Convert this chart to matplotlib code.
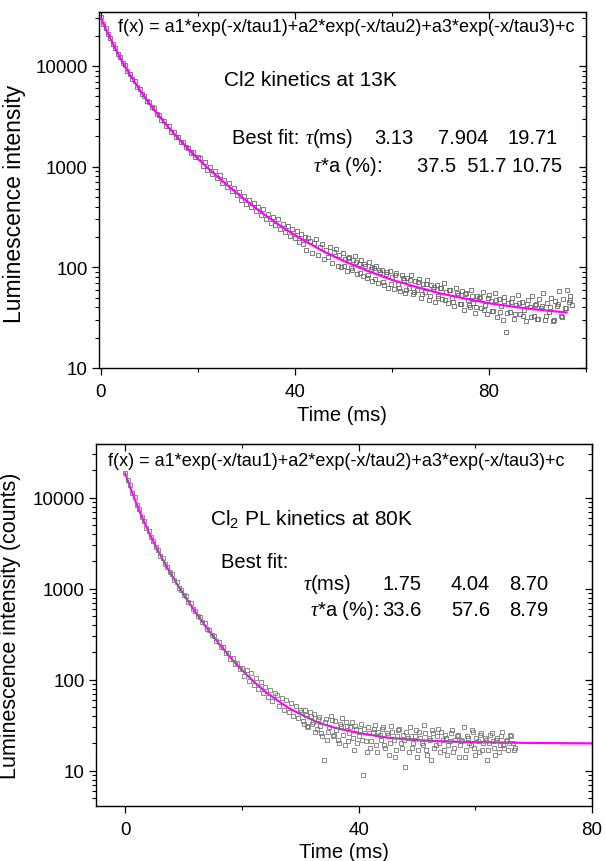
import matplotlib
matplotlib.use("Agg")
import matplotlib.pyplot as plt
from matplotlib.ticker import FixedLocator, LogLocator, NullFormatter, FixedFormatter

plt.rcParams['font.family'] = ['Liberation Sans', 'DejaVu Sans']
plt.rcParams['mathtext.fontset'] = 'custom'
plt.rcParams['mathtext.rm'] = 'Liberation Sans'
plt.rcParams['mathtext.it'] = 'Liberation Serif:italic'
plt.rcParams['mathtext.bf'] = 'Liberation Sans:bold'

# ---------------- data: 13 K panel ----------------
fit13_t = [0, 1, 2, 3, 4, 5, 6, 8, 10, 12, 14, 16, 18, 20, 22, 24, 26, 28, 30, 34, 38,
           42, 46, 50, 55, 60, 65, 70, 75, 80, 85, 90, 96]
fit13_y = [30000, 23500, 18600, 14900, 12000, 9900, 8200, 5800, 4250, 3180, 2440, 1900,
           1500, 1200, 975, 800, 660, 548, 458, 326, 240, 183, 143, 116, 92, 75, 64, 55,
           49, 44, 40.6, 38, 35.6]

data13_t = [0.0, 0.5, 1.0, 1.5, 2.0, 2.5, 3.0, 3.5, 4.0, 4.5, 5.0, 5.5, 6.0, 6.5, 7.0, 7.5,
            8.0, 8.5, 9.0, 9.5, 10.0, 10.5, 11.0, 11.5, 12.0, 12.5, 13.0, 13.5, 14.0, 14.5,
            15.0, 15.5, 16.0, 16.5, 17.0, 17.5, 18.0, 18.5, 19.0, 19.5, 20.0,
            20.5, 21.0, 21.5, 22.0, 22.5, 23.0, 23.5, 24.0, 24.5, 25.0, 25.5, 26.0, 26.5,
            27.0, 27.5, 28.0, 28.5, 29.0, 29.5, 30.0, 30.5, 31.0, 31.5, 32.0, 32.5, 33.0,
            33.5, 34.0, 34.5, 35.0, 35.5, 36.0, 36.5, 37.0, 37.5, 38.0, 38.5, 39.0, 39.5, 40.0,
            40.4, 40.8, 41.2, 41.6, 42.0, 42.4, 42.8, 43.2, 43.6, 44.0, 44.4, 44.8, 45.2, 45.6,
            46.0, 46.4, 46.8, 47.2, 47.6, 48.0, 48.4, 48.8, 49.2, 49.6, 50.0, 50.4, 50.8, 51.2,
            51.6, 52.0, 52.4, 52.8, 53.2, 53.6, 54.0, 54.4, 54.8, 55.2, 55.6, 56.0, 56.4, 56.8,
            57.2, 57.6, 58.0, 58.4, 58.8, 59.2, 59.6, 60.0, 60.4, 60.8, 61.2, 61.6, 62.0, 62.4,
            62.8, 63.2, 63.6, 64.0, 64.4, 64.8, 65.2, 65.6, 66.0, 66.4, 66.8, 67.2, 67.6, 68.0,
            68.4, 68.8, 69.2, 69.6, 70.0, 70.4, 70.8, 71.2, 71.6, 72.0, 72.4, 72.8, 73.2, 73.6,
            74.0, 74.4, 74.8, 75.2, 75.6, 76.0, 76.4, 76.8, 77.2, 77.6, 78.0, 78.4, 78.8, 79.2,
            79.6, 80.0, 80.4, 80.8, 81.2, 81.6, 82.0, 82.4, 82.8, 83.2, 83.6, 84.0, 84.4, 84.8,
            85.2, 85.6, 86.0, 86.4, 86.8, 87.2, 87.6, 88.0, 88.4, 88.8, 89.2, 89.6, 90.0, 90.4,
            90.8, 91.2, 91.6, 92.0, 92.4, 92.8, 93.2, 93.6, 94.0, 94.4, 94.8, 95.2, 95.6, 96.0,
            96.4, 96.8, 97.2]
data13_y = [30500, 26000, 23900, 20600, 18900, 16400, 15200, 13100, 12300, 10700, 10100, 8850,
            8350, 7380, 7040, 6190, 5930, 5240, 5060, 4490, 4340, 3880, 3780, 3350, 3260, 2910,
            2860, 2550, 2510, 2230, 2210, 1970, 1950, 1740, 1740, 1550, 1540, 1380, 1390, 1235,
            1240,
            1210, 1020, 1100, 930, 990, 850, 895, 770, 820, 690, 740, 625, 680, 570, 610, 520,
            565, 470, 515, 430, 470, 395, 440, 360, 395, 330, 375, 305, 340, 278, 318, 262, 300,
            240, 272, 222, 256, 205, 238, 196,
            230, 178, 215, 170, 201, 150, 195, 182, 140, 176, 190, 133, 160, 172, 121, 150, 128,
            158, 110, 141, 152, 104, 131, 100, 139, 122, 92, 127, 98, 118, 130, 86, 108, 117, 82,
            104, 79, 112, 96, 73, 99, 104, 70, 90, 95, 66, 86, 63, 91, 80, 61, 88, 69, 58, 83,
            75, 56, 79, 62, 84, 54, 73, 60, 76, 49, 69, 57, 74, 47, 66, 61, 45, 67, 52, 63, 48,
            70, 57, 44, 60, 50, 41, 62, 53, 43, 58, 38, 55, 47, 40, 59, 44, 35, 52, 49, 39, 57,
            42, 34, 53, 46, 37, 55, 32, 48, 41, 30, 51, 23, 44, 36, 49, 31, 42, 53, 34, 45, 38,
            29, 47, 40, 52, 33, 43, 31, 48, 39, 56, 30, 44, 36, 50, 29, 46, 41, 58, 33, 48, 39,
            60, 45, 52, 42]
data13b_t = [50.2, 51.0, 51.8, 52.6, 53.4, 54.2, 55.0, 55.8, 56.6, 57.4, 58.2, 59.0, 59.8,
             60.6, 61.4, 62.2, 63.0, 63.8, 64.6, 65.4, 66.2, 67.0, 67.8, 68.6, 69.4, 70.2,
             71.0, 71.8, 72.6, 73.4, 74.2, 75.0, 75.8, 76.6, 77.4, 78.2, 79.0, 79.8, 80.6,
             81.4, 82.2, 83.0, 83.8, 84.6, 85.4, 86.2, 87.0, 87.8, 88.6, 89.4, 90.2, 91.0,
             91.8, 92.6, 93.4, 94.2, 95.0, 95.8, 96.6]
data13b_y = [104, 124, 95, 112, 88, 108, 83, 101, 77, 94, 72, 89, 68, 84, 63, 78, 59, 75, 57,
             71, 54, 68, 52, 64, 49, 62, 47, 59, 45, 56, 43, 54, 42, 52, 40, 51, 38, 49, 37, 47,
             36, 46, 35, 45, 34, 44, 33, 43, 32, 42, 31, 41, 33, 40, 30, 43, 32, 39, 47]

# ---------------- data: 80 K panel ----------------
fit80_t = [0, 1, 2, 3, 4, 5, 6, 7, 8, 9, 10, 12, 14, 16, 18, 20, 22, 24, 26, 28, 30, 33, 36,
           40, 45, 50, 55, 60, 70, 80]
fit80_y = [18500, 12300, 8400, 5900, 4250, 3130, 2360, 1800, 1400, 1095, 870, 560, 370, 253,
           177, 128, 96, 74, 60, 49, 42, 34, 29.6, 26, 23.1, 21.7, 21, 20.6, 20.2, 20]

data80_t = [0.0, 0.4, 0.8, 1.2, 1.6, 2.0, 2.4, 2.8, 3.2, 3.6, 4.0, 4.4, 4.8, 5.2, 5.6, 6.0,
            6.4, 6.8, 7.2, 7.6, 8.0, 8.4, 8.8, 9.2, 9.6, 10.0, 10.4, 10.8, 11.2, 11.6, 12.0,
            12.4, 12.8, 13.2, 13.6, 14.0, 14.4, 14.8, 15.2, 15.6, 16.0, 16.4, 16.8, 17.2, 17.6,
            18.0, 18.4, 18.8, 19.2, 19.6, 20.0,
            20.4, 20.8, 21.2, 21.6, 22.0, 22.4, 22.8, 23.2, 23.6, 24.0, 24.4, 24.8, 25.2, 25.6,
            26.0, 26.4, 26.8, 27.2, 27.6, 28.0, 28.4, 28.8, 29.2, 29.6, 30.0,
            30.4, 30.8, 31.2, 31.6, 32.0, 32.4, 32.8, 33.2, 33.6, 34.0, 34.4, 34.8, 35.2, 35.6,
            36.0, 36.4, 36.8, 37.2, 37.6, 38.0, 38.4, 38.8, 39.2, 39.6, 40.0, 40.4, 40.8, 41.2,
            41.6, 42.0, 42.4, 42.8, 43.2, 43.6, 44.0, 44.4, 44.8, 45.2, 45.6, 46.0, 46.4, 46.8,
            47.2, 47.6, 48.0, 48.4, 48.8, 49.2, 49.6, 50.0, 50.4, 50.8, 51.2, 51.6, 52.0, 52.4,
            52.8, 53.2, 53.6, 54.0, 54.4, 54.8, 55.2, 55.6, 56.0, 56.4, 56.8, 57.2, 57.6, 58.0,
            58.4, 58.8, 59.2, 59.6, 60.0, 60.4, 60.8, 61.2, 61.6, 62.0, 62.4, 62.8, 63.2, 63.6,
            64.0, 64.4, 64.8, 65.2, 65.6, 66.0, 66.4, 66.8]
data80_y = [18900, 15500, 13800, 11300, 10100, 8250, 7450, 6180, 5620, 4700, 4340, 3680, 3390,
            2890, 2690, 2310, 2170, 1860, 1750, 1510, 1440, 1240, 1180, 1020, 980, 850, 825,
            715, 695, 600, 575, 505, 495, 428, 418, 360, 356, 310, 306, 266, 262, 228, 227, 199,
            196, 171, 172, 150, 152, 131, 134,
            110, 128, 97, 118, 88, 104, 80, 95, 72, 84, 65, 78, 58, 72, 68, 51, 63, 47, 60, 44,
            55, 40, 52, 38, 47,
            35, 46, 31, 44, 33, 42, 29, 39, 26, 13, 37, 27, 40, 24, 35, 22, 33, 38, 19, 31, 26,
            34, 17, 29, 24, 33, 9, 21, 30, 18, 27, 32, 16, 25, 29, 19, 26, 15, 31, 22, 17, 28,
            20, 25, 11, 23, 30, 18, 24, 14, 27, 20, 32, 17, 23, 13, 26, 19, 29, 16, 22, 25, 15,
            21, 28, 18, 24, 14, 22, 30, 17, 23, 19, 27, 15, 21, 25, 17, 23, 13, 20, 26, 18, 22,
            16, 24, 19, 21, 17, 25, 20, 18]
data80b_t = [30.2, 30.6, 31.0, 31.4, 31.8, 32.2, 32.6, 33.0, 33.4, 33.8, 34.2, 34.6, 35.0,
             35.4, 35.8, 36.2, 36.6, 37.0, 37.4, 37.8, 38.2, 38.6, 39.0, 39.4, 39.8, 40.2,
             40.6, 41.0, 41.4, 41.8, 42.2, 42.6, 43.0, 43.4, 43.8, 44.2, 44.6, 45.0, 45.4,
             45.8, 46.2, 46.6, 47.0, 47.4, 47.8, 48.2, 48.6, 49.0, 49.4, 49.8, 50.2, 50.6,
             51.0, 51.4, 51.8, 52.2, 52.6, 53.0, 53.4, 53.8, 54.2, 54.6, 55.0, 55.4, 55.8,
             56.2, 56.6, 57.0, 57.4, 57.8, 58.2, 58.6, 59.0, 59.4, 59.8, 60.2, 60.6, 61.0,
             61.4, 61.8, 62.2, 62.6, 63.0, 63.4, 63.8, 64.2, 64.6, 65.0, 65.4, 65.8, 66.2, 66.6]
data80b_y = [44, 33, 41, 30, 40, 34, 27, 37, 31, 24, 34, 22, 30, 36, 25, 28, 20, 31, 25, 34,
             21, 30, 23, 31, 20, 28, 22, 29, 16, 26, 21, 29, 19, 27, 22, 30, 18, 25, 20, 27,
             14, 24, 29, 18, 22, 27, 16, 24, 20, 28, 17, 23, 19, 26, 15, 22, 28, 18, 24, 20,
             27, 17, 23, 19, 26, 16, 22, 25, 19, 21, 14, 24, 20, 28, 18, 23, 16, 26, 20, 22,
             17, 25, 21, 15, 23, 19, 27, 18, 22, 20, 24, 17]

# ---------------- text ----------------
formula = "f(x) = a1*exp(-x/tau1)+a2*exp(-x/tau2)+a3*exp(-x/tau3)+c"
title13 = "Cl2 kinetics at 13K"
title80 = "Cl$_2$ PL kinetics at 80K"
tau13 = ["3.13", "7.904", "19.71"]
pct13 = "37.5  51.7 10.75"
tau80 = ["1.75", "4.04", "8.70"]
pct80 = ["33.6", "57.6", "8.79"]

W, H = 606, 862
fig = plt.figure(figsize=(W / 100, H / 100), dpi=100)


def add_ax(l, r, t, b):
    return fig.add_axes([l / W, 1 - b / H, (r - l) / W, (b - t) / H])


def txt(x, y, s, size, ha='left'):
    fig.text(x / W, 1 - y / H, s, fontsize=size, ha=ha, va='center', color='black')


def style(ax, xlim, ylim, xmajor, xminor, yticks):
    ax.set_yscale('log')
    ax.set_xlim(*xlim)
    ax.set_ylim(*ylim)
    ax.xaxis.set_major_locator(FixedLocator(xmajor))
    ax.xaxis.set_minor_locator(FixedLocator(xminor))
    ax.set_xticklabels([str(v) for v in xmajor])
    ax.yaxis.set_major_locator(FixedLocator(yticks))
    ax.yaxis.set_major_formatter(FixedFormatter([str(v) for v in yticks]))
    ax.yaxis.set_minor_locator(LogLocator(base=10, subs=range(2, 10), numticks=20))
    ax.yaxis.set_minor_formatter(NullFormatter())
    ax.tick_params(which='major', direction='out', length=5, width=0.9, labelsize=13.5,
                   pad=3)
    ax.tick_params(axis='x', which='major', pad=5.5)
    ax.tick_params(which='minor', direction='out', length=3, width=0.8)
    for sp in ax.spines.values():
        sp.set_linewidth(1.0)
    sx = ax.secondary_xaxis('top')
    sx.xaxis.set_major_locator(FixedLocator(xmajor))
    sx.xaxis.set_minor_locator(FixedLocator(xminor))
    sx.tick_params(which='major', direction='in', length=5, width=0.9, labeltop=False)
    sx.tick_params(which='minor', direction='in', length=3, width=0.8)
    sy = ax.secondary_yaxis('right')
    sy.set_yscale('log')
    sy.yaxis.set_major_locator(FixedLocator(yticks))
    sy.yaxis.set_minor_locator(LogLocator(base=10, subs=range(2, 10), numticks=20))
    sy.yaxis.set_minor_formatter(NullFormatter())
    sy.tick_params(which='major', direction='in', length=5, width=0.9, labelright=False)
    sy.tick_params(which='minor', direction='in', length=3, width=0.8)


mk = dict(linestyle='none', marker='s', markersize=2.6, markerfacecolor='none',
          markeredgewidth=0.6)

# ---------------- top panel ----------------
ax1 = add_ax(98.8, 586, 13, 369)
ax1.plot(data13_t + data13b_t, data13_y + data13b_y, markeredgecolor='#666666', zorder=2, **mk)
ax1.plot(fit13_t, fit13_y, color='#ff00ff', linewidth=1.6, zorder=3)
style(ax1, (-0.4, 100), (10, 34300), [0, 40, 80], [20, 60, 100], [10, 100, 1000, 10000])
ax1.set_xlabel("Time (ms)", fontsize=14.5, labelpad=4)
ax1.set_ylabel("Luminescence intensity", fontsize=16.5, labelpad=7)
ax1.yaxis.label.set_y(0.463)

txt(118, 27, formula, 13)
txt(224, 81, title13, 15)
txt(232, 139, "Best fit:", 14.5)
txt(305, 139, r"$\tau$(ms)", 14.5)
for s, xr in zip(tau13, [413, 488, 558]):
    txt(xr, 139, s, 14.5, ha='right')
txt(313, 167, r"$\tau$*a (%):", 14.5)
txt(562, 167, pct13, 14.5, ha='right')

# ---------------- bottom panel ----------------
ax2 = add_ax(96, 592, 445, 807)
ax2.plot(fit80_t, fit80_y, color='#ff00ff', linewidth=1.6, zorder=2)
ax2.plot(data80_t + data80b_t, data80_y + data80b_y, markeredgecolor='#777777', zorder=3, **mk)
style(ax2, (-5, 80), (4.1, 39000), [0, 40, 80], [20, 60], [10, 100, 1000, 10000])
ax2.set_xlabel("Time (ms)", fontsize=14.5, labelpad=3.5)
ax2.set_ylabel("Luminescence intensity (counts)", fontsize=15.5, labelpad=8)

txt(108, 461, formula, 13)
txt(210, 519, title80, 15)
txt(221, 562, "Best fit:", 14.5)
txt(303, 584, r"$\tau$(ms)", 14.5)
for s, xr in zip(tau80, [422, 490, 548]):
    txt(xr, 584, s, 14.5, ha='right')
txt(310, 610, r"$\tau$*a (%):", 14.5)
for s, xr in zip(pct80, [422, 490, 548]):
    txt(xr, 610, s, 14.5, ha='right')

fig.savefig("out.png", dpi=100)
